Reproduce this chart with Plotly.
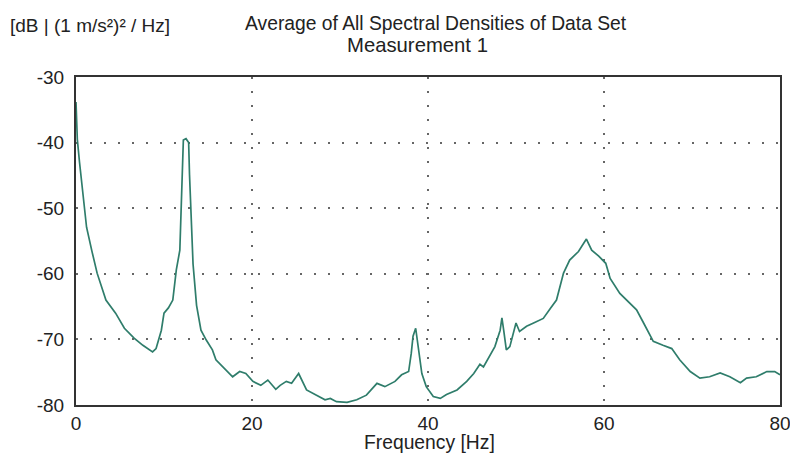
import plotly.graph_objects as go

# Frequency [Hz]
freq = [0.0, 0.15, 0.4, 0.8, 1.2, 1.8, 2.4, 3.4, 4.5, 5.5, 6.6, 7.6, 8.7, 9.1, 9.7,
        10.0, 10.5, 11.0, 11.4, 11.8, 12.0, 12.2, 12.5, 12.8, 12.9, 13.1, 13.3, 13.7,
        14.2, 14.8, 15.5, 15.9, 16.9, 17.8, 18.6, 19.3, 20.1, 21.0, 21.8, 22.7, 23.2,
        23.9, 24.5, 25.3, 26.2, 27.4, 28.3, 28.9, 29.6, 30.8, 31.9, 33.0, 34.2, 35.1,
        36.25, 37.0, 37.8, 38.1, 38.3, 38.6, 38.9, 39.3, 39.8, 40.6, 41.4, 42.1, 43.3,
        44.4, 45.2, 45.9, 46.3, 47.0, 47.6, 48.2, 48.4, 48.6, 48.9, 49.3, 50.0, 50.4,
        51.2, 52.0, 53.1, 53.9, 54.6, 55.4, 56.1, 57.1, 58.0, 58.6, 59.4, 60.2, 60.7,
        61.8, 63.0, 63.7, 64.5, 65.6, 66.7, 67.7, 68.6, 69.8, 70.9, 72.0, 73.2, 74.3,
        75.5, 76.2, 77.3, 78.5, 79.4, 80.0]

# Spectral density [dB]
level = [-33.8, -39.5, -43.0, -48.0, -52.9, -56.5, -59.9, -64.0, -66.0, -68.3, -69.8,
         -70.9, -71.9, -71.4, -68.6, -66.0, -65.2, -64.0, -59.4, -56.4, -46.2, -39.6,
         -39.4, -40.0, -44.9, -51.8, -58.5, -64.8, -68.6, -70.1, -71.6, -73.1, -74.4,
         -75.7, -74.9, -75.2, -76.4, -77.0, -76.2, -77.6, -77.0, -76.4, -76.7, -75.2,
         -77.7, -78.5, -79.2, -79.0, -79.5, -79.6, -79.2, -78.5, -76.7, -77.2, -76.4,
         -75.4, -74.9, -72.1, -69.5, -68.3, -71.1, -75.2, -77.2, -78.7, -79.0, -78.4,
         -77.7, -76.4, -75.2, -73.8, -74.2, -72.6, -71.1, -68.6, -66.7, -68.6, -71.6,
         -71.1, -67.5, -68.8, -68.0, -67.5, -66.8, -65.3, -64.0, -59.9, -57.9, -56.6,
         -54.7, -56.4, -57.3, -58.4, -60.7, -63.0, -64.5, -65.5, -67.5, -70.3, -70.9,
         -71.4, -73.1, -74.9, -75.9, -75.7, -75.1, -75.7, -76.6, -75.9, -75.7, -74.9,
         -74.9, -75.4]

x_ticks = [0, 20, 40, 60, 80]
y_ticks = [-30, -40, -50, -60, -70, -80]

title_line1 = "Average of All Spectral Densities of Data Set"
title_line2 = "Measurement 1"
y_label = "[dB | (1 m/s²)² / Hz]"
x_label = "Frequency [Hz]"

FONT = "Arial, 'Liberation Sans', sans-serif"
TXT = "#222222"

fig = go.Figure()
fig.add_trace(go.Scatter(x=freq, y=level, mode="lines",
                         line=dict(color="#2f7d6b", width=1.7),
                         showlegend=False, hoverinfo="skip"))

axis_common = dict(showline=True, mirror=True, linecolor="#333333", linewidth=2,
                   showgrid=True, gridcolor="#666666", gridwidth=1.5,
                   griddash="2px,12px", zeroline=False, ticks="", automargin=False,
                   tickfont=dict(family=FONT, size=19, color=TXT))

# figure is slightly wider than the 790px window so the "80" label is clipped like the original
FIG_W, FIG_H = 806, 453
ML, MR, MT, MB = 76, 26, 77, 48
PW = FIG_W - ML - MR
PH = FIG_H - MT - MB

fig.update_layout(
    width=FIG_W, height=FIG_H,
    margin=dict(l=ML, r=MR, t=MT, b=MB, autoexpand=False),
    paper_bgcolor="white", plot_bgcolor="white",
    xaxis=dict(range=[0, 80], tickvals=x_ticks, ticktext=[str(v) for v in x_ticks],
               ticklabelstandoff=0, **axis_common),
    yaxis=dict(range=[-80, -30], tickvals=y_ticks, ticktext=[str(v) for v in y_ticks],
               ticklabelstandoff=6, **axis_common),
    annotations=[
        dict(text=y_label, xref="paper", yref="paper", x=-ML/PW, y=1 + (MT-25)/PH,
             xanchor="left", yanchor="middle", showarrow=False, xshift=8,
             font=dict(family=FONT, size=19, color=TXT)),
        dict(text=title_line1, xref="paper", yref="paper", x=(436-ML)/PW, y=1 + (MT-23)/PH,
             xanchor="center", yanchor="middle", showarrow=False,
             font=dict(family=FONT, size=19.3, color=TXT)),
        dict(text=title_line2, xref="paper", yref="paper", x=(417-ML)/PW, y=1 + (MT-45)/PH,
             xanchor="center", yanchor="middle", showarrow=False,
             font=dict(family=FONT, size=20.3, color=TXT)),
        dict(text=x_label, xref="paper", yref="paper", x=(429-ML)/PW, y=-(442-405)/PH,
             xanchor="center", yanchor="middle", showarrow=False,
             font=dict(family=FONT, size=19.3, color=TXT)),
    ],
)

fig.write_html("out.html", config={"displayModeBar": False},
               post_script="document.body.style.margin='0';document.body.style.overflow='hidden';")
